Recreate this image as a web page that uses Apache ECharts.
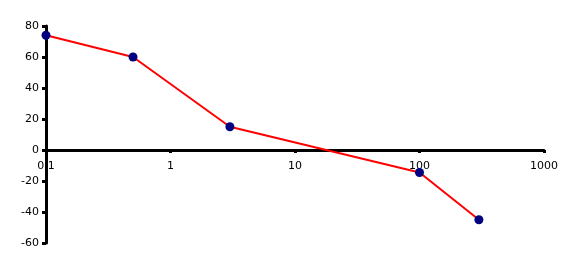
<!DOCTYPE html>
<html><head><meta charset="utf-8">
<script src="https://cdn.jsdelivr.net/npm/echarts@6/dist/echarts.min.js"></script>
<style>html,body{margin:0;padding:0;background:#fff}#c{width:575px;height:269px}</style>
</head><body><div id="c"></div>
<script>
const xValues = [0.1, 0.5, 3, 100, 300];
const yValues = [74, 60, 15, -14.5, -45];
const xTicks = [0.1, 1, 10, 100, 1000];
const yTicks = [-60, -40, -20, 0, 20, 40, 60, 80];

const chart = echarts.init(document.getElementById('c'), null, {renderer: 'canvas'});
const font = {fontFamily: 'DejaVu Sans', fontSize: 11, color: '#000'};
const gridTop = 26, gridBottom = 26, plotH = 269 - gridTop - gridBottom;
const yMin = yTicks[0], yMax = yTicks[yTicks.length - 1];
const zeroOffset = -plotH * (0 - yMin) / (yMax - yMin);
chart.setOption({
  animation: false,
  grid: {left: 46, right: 31, top: gridTop, bottom: gridBottom, containLabel: false},
  xAxis: {
    type: 'log', logBase: 10, min: xTicks[0], max: xTicks[xTicks.length - 1],
    offset: zeroOffset,
    axisLine: {onZero: false, lineStyle: {color: '#000', width: 3}},
    axisTick: {show: true, inside: false, length: 3, lineStyle: {color: '#000', width: 3}},
    axisLabel: Object.assign({margin: 11, formatter: v => String(+v.toPrecision(6))}, font),
    splitLine: {show: false}
  },
  yAxis: {
    type: 'value', min: yMin, max: yMax, interval: 20,
    axisLine: {show: true, onZero: false, lineStyle: {color: '#000', width: 3}},
    axisTick: {show: true, length: 4, lineStyle: {color: '#000', width: 3}},
    axisLabel: Object.assign({margin: 7}, font),
    splitLine: {show: false}
  },
  series: [{
    type: 'line',
    data: xValues.map((x, i) => [x, yValues[i]]),
    lineStyle: {color: '#ff0000', width: 2},
    itemStyle: {color: '#000080'},
    symbol: 'circle', symbolSize: 9,
    showAllSymbol: true
  }]
});
</script></body></html>
